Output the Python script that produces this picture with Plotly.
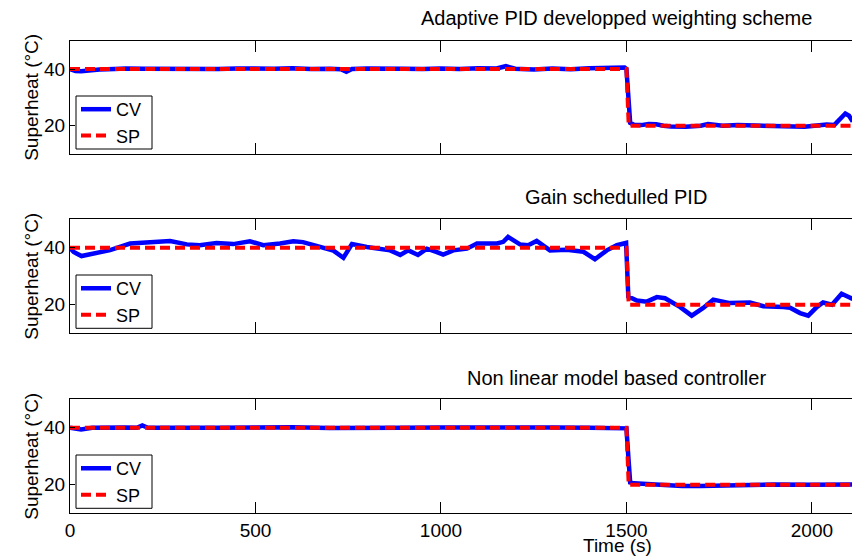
import plotly.graph_objects as go
from plotly.subplots import make_subplots

# ---------------- data ----------------
titles = ["Adaptive PID developped weighting scheme",
          "Gain schedulled PID",
          "Non linear model based controller"]

sp_t = [0, 1500, 1506, 2110]
sp_v = [40, 40, 20, 20]

cv1_t = [0, 15, 30, 50, 80, 120, 150, 200, 250, 300, 350, 400, 450, 500, 550, 600, 650,
         700, 730, 745, 760, 800, 850, 900, 950, 1000, 1050, 1100, 1150, 1175, 1200, 1250,
         1300, 1350, 1400, 1450, 1495, 1500, 1505, 1510, 1520, 1540, 1560, 1580, 1600, 1620,
         1660, 1700, 1720, 1740, 1760, 1800, 1850, 1880, 1900, 1950, 1980, 2000, 2020, 2040,
         2060, 2080, 2090, 2100, 2110]
cv1_v = [40, 39.3, 39.2, 39.6, 39.8, 40.0, 40.2, 40.1, 40.0, 39.9, 40.1, 40.0, 40.2, 40.0, 40.1,
         40.3, 40.0, 40.1, 39.9, 39.0, 40.0, 40.2, 40.0, 40.1, 40.0, 40.2, 40.0, 40.3, 40.2, 41.0,
         40.1, 39.8, 40.2, 39.9, 40.3, 40.4, 40.5, 40.0, 30.0, 21.0, 20.3, 20.2, 20.6, 20.5, 20.0,
         19.7, 19.6, 20.0, 20.6, 20.3, 20.0, 20.2, 20.0, 19.7, 19.8, 19.8, 19.6, 19.9, 20.2, 20.4,
         20.2, 23.0, 24.3, 23.5, 21.5]

cv2_t = [0, 10, 31, 60, 108, 162, 216, 270, 315, 350, 395, 440, 485, 521, 566, 602, 628, 674,
         710, 737, 760, 800, 836, 863, 890, 912, 938, 962, 989, 1006, 1033, 1070, 1097, 1151,
         1168, 1181, 1213, 1235, 1258, 1294, 1339, 1384, 1415, 1447, 1474, 1499, 1505, 1528,
         1555, 1582, 1604, 1645, 1676, 1707, 1734, 1779, 1833, 1869, 1923, 1941, 1968, 1990,
         2013, 2030, 2054, 2080, 2103, 2110]
cv2_v = [40.0, 38.5, 37.1, 37.8, 39.2, 41.5, 41.8, 42.4, 41.2, 40.9, 41.7, 41.3, 42.3, 40.9,
         41.5, 42.3, 42.0, 40.3, 39.0, 36.5, 41.3, 40.3, 39.7, 39.1, 37.5, 39.1, 37.5, 39.7, 38.5,
         37.6, 39.1, 39.7, 41.5, 41.5, 42.1, 43.8, 41.2, 40.9, 42.4, 39.1, 39.3, 38.6, 36.0, 39.1,
         40.9, 41.7, 22.9, 21.5, 21.1, 22.7, 22.3, 19.2, 16.2, 18.9, 21.8, 20.6, 20.8, 19.5, 19.2,
         19.0, 17.1, 16.2, 19.2, 20.8, 20.0, 23.9, 22.5, 22.0]

cv3_t = [0, 10, 30, 60, 100, 150, 180, 195, 210, 260, 300, 400, 500, 600, 700, 800, 900, 1000,
         1100, 1200, 1300, 1400, 1495, 1500, 1505, 1510, 1520, 1560, 1600, 1650, 1700, 1750,
         1800, 1900, 2000, 2050, 2110]
cv3_v = [40.0, 39.7, 39.4, 40.0, 40.2, 40.1, 40.0, 40.8, 40.0, 39.9, 40.1, 40.0, 40.1, 40.2,
         39.9, 40.1, 40.0, 40.1, 40.2, 40.0, 40.1, 40.0, 40.1, 39.8, 30.0, 20.8, 20.5, 20.2, 19.8,
         19.6, 19.6, 19.7, 20.0, 20.1, 20.0, 20.2, 20.1]

x_ticks = [0, 500, 1000, 1500, 2000]
y_ticks = [20, 40]
y_label = "Superheat (°C)"
x_label = "Time (s)"

# ---------------- figure ----------------
FONT = "Liberation Sans, Arial, sans-serif"
W, H = 852, 558
L = 70

fig = make_subplots(rows=3, cols=1)

cvs = [(cv1_t, cv1_v), (cv2_t, cv2_v), (cv3_t, cv3_v)]
legnames = ["legend", "legend2", "legend3"]
# plot areas in pixels (top, bottom)
areas = [(40.7, 154.0), (219.3, 333.3), (399.3, 513.3)]
legend_box = [(96, 149), (275, 328.3), (455, 508.3)]

for i, (ct, cvv) in enumerate(cvs):
    r = i + 1
    fig.add_trace(go.Scatter(x=ct, y=cvv, mode="lines", name="CV",
                             line=dict(color="#0000FF", width=4.5),
                             legend=legnames[i]), row=r, col=1)
    fig.add_trace(go.Scatter(x=sp_t, y=sp_v, mode="lines", name="SP",
                             line=dict(color="#FF0000", width=4, dash="10px,5px"),
                             legend=legnames[i]), row=r, col=1)

layout = dict(
    width=W, height=H,
    margin=dict(l=L, r=0, t=0, b=0),
    paper_bgcolor="white", plot_bgcolor="white",
    font=dict(family=FONT, size=19, color="black"),
    showlegend=True,
    annotations=[],
    shapes=[],
)

def px_x(p):
    return (p - L) / (W - L)

def px_y(p):
    return 1 - p / H

for i in range(3):
    top, bot = areas[i]
    sfx = "" if i == 0 else str(i + 1)
    layout["xaxis" + sfx] = dict(
        domain=[0, 1], range=[0, 2108],
        showline=True, linecolor="black", linewidth=1, mirror="ticks",
        ticks="inside", ticklen=11, tickcolor="black",
        tickvals=x_ticks, showticklabels=(i == 2),
        showgrid=False, zeroline=False,
        tickfont=dict(family=FONT, size=19, color="black"),
        anchor="y" + sfx,
    )
    layout["yaxis" + sfx] = dict(
        domain=[px_y(bot), px_y(top)], range=[10, 50],
        showline=True, linecolor="black", linewidth=1, mirror=False,
        ticks="inside", ticklen=5, tickcolor="black",
        tickvals=y_ticks, showgrid=False, zeroline=False,
        tickfont=dict(family=FONT, size=19, color="black"),
        title=dict(text=y_label, standoff=0, font=dict(family=FONT, size=19, color="black")),
        anchor="x" + sfx,
    )
    btop, bbot = legend_box[i]
    layout[legnames[i]] = dict(
        x=px_x(76), y=px_y((btop + bbot) / 2),
        xanchor="left", yanchor="middle",
        bgcolor="rgba(0,0,0,0)", borderwidth=0,
        font=dict(family=FONT, size=18, color="black"),
        tracegroupgap=0, itemwidth=30,
    )
    layout["shapes"].append(dict(
        type="rect", xref="paper", yref="paper",
        x0=px_x(76), x1=px_x(152), y0=px_y(bbot), y1=px_y(btop),
        line=dict(color="black", width=1), fillcolor="white", layer="above",
    ))

title_y = [18, 197, 378]
for i in range(3):
    layout["annotations"].append(dict(
        text=titles[i], xref="paper", yref="paper",
        x=px_x(616), y=px_y(title_y[i]),
        xanchor="center", yanchor="middle", showarrow=False,
        font=dict(family=FONT, size=20, color="black"),
    ))
layout["annotations"].append(dict(
    text=x_label, xref="paper", yref="paper",
    x=px_x(617), y=0,
    xanchor="center", yanchor="bottom", showarrow=False,
    font=dict(family=FONT, size=19, color="black"),
))

fig.update_layout(**layout)
fig.write_html("out.html", config={"displayModeBar": False})
